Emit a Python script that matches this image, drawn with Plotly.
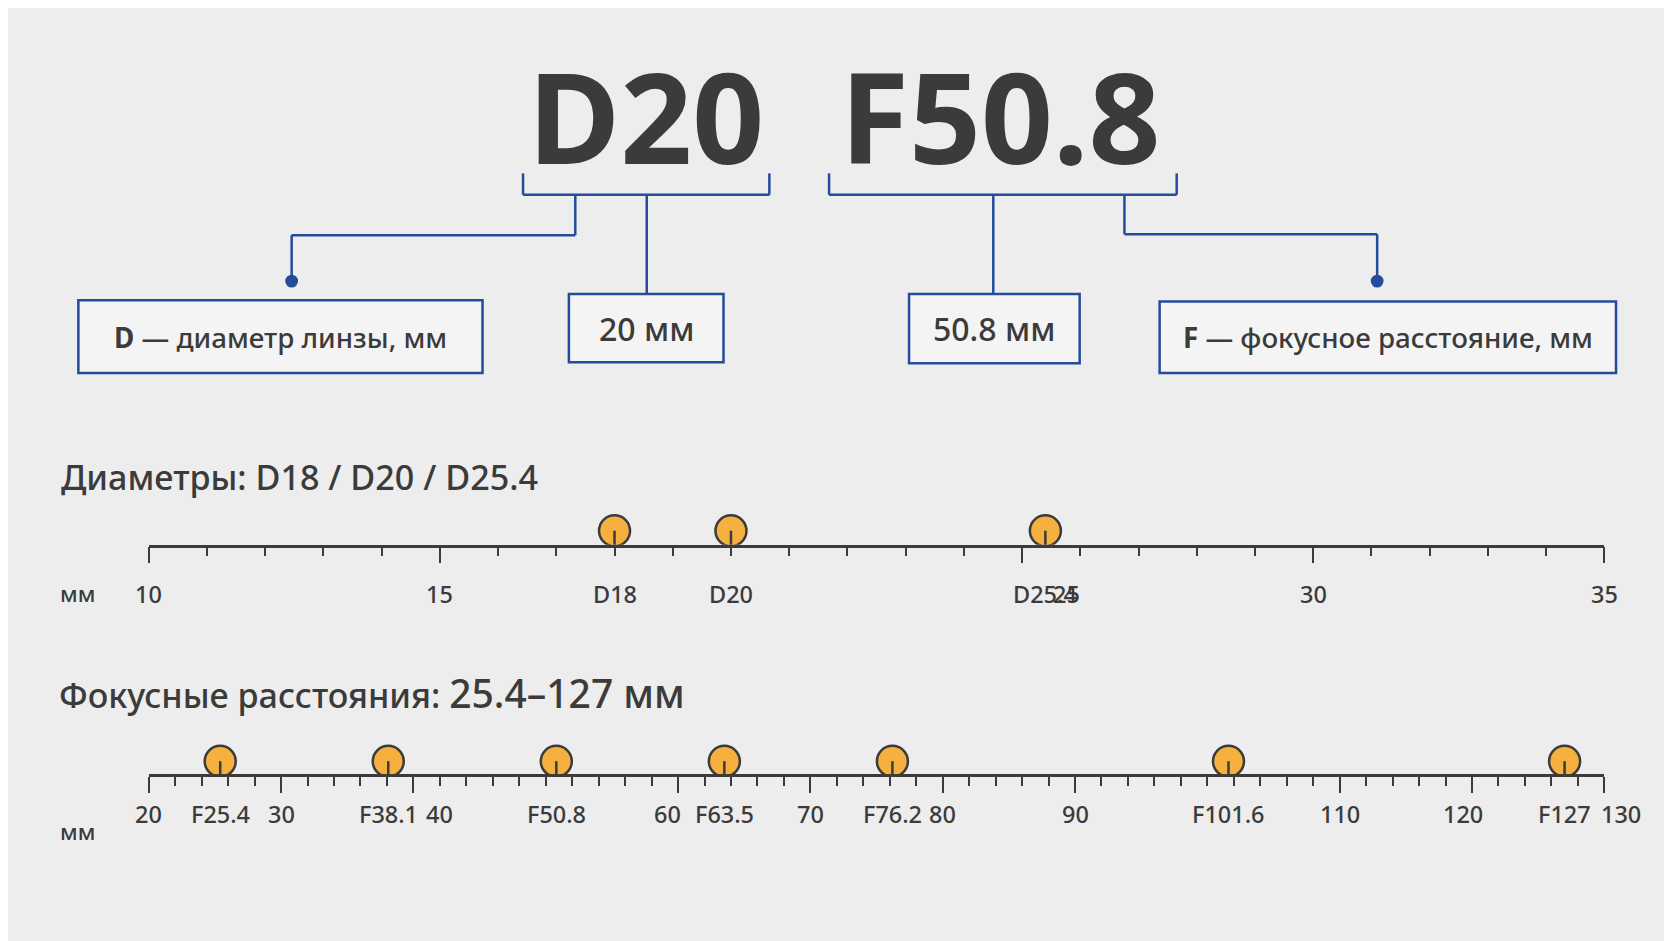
import plotly.graph_objects as go

W, H = 1568, 882  # reference design grid

diam_vals = [18, 20, 25.4]
diam_labels = ["D18", "D20", "D25.4"]
diam_ticks = [10, 15, 25, 30, 35]

focal_vals = [25.4, 38.1, 50.8, 63.5, 76.2, 101.6, 127]
focal_labels = ["F25.4", "F38.1", "F50.8", "F63.5", "F76.2", "F101.6", "F127"]
focal_ticks = [20, 30, 40, 60, 70, 80, 90, 110, 120, 130]

# label nudges (px) so numbers don't collide with marker labels
nudge = {("x", 25): 42, ("x2", 40): 24, ("x2", 60): -10, ("x2", 130): 16, ("x2", 120): -8}

BLUE = "#244c9a"
DARK = "#3b3b3b"
ORANGE = "#f5b040"
FONT = "Noto Sans"
S = 941 / 882


def px(x):
    return x / W


def py(y):
    return 1 - y / H


fig = go.Figure()
shapes, ann = [], []


def line(x0, y0, x1, y1, color=BLUE, w=2.5):
    shapes.append(dict(type="line", xref="paper", yref="paper", x0=px(x0), y0=py(y0),
                       x1=px(x1), y1=py(y1), line=dict(color=color, width=w)))


def text(x, y, t, size, color=DARK, xanchor="center", weight=None):
    ann.append(dict(x=px(x), y=py(y), xref="paper", yref="paper", text=t, showarrow=False,
                    xanchor=xanchor, yanchor="middle",
                    font=dict(family=FONT, size=size * S, color=color, weight=weight)))


def box(x0, y0, x1, y1, t, size):
    shapes.append(dict(type="rect", xref="paper", yref="paper", x0=px(x0), y0=py(y0), x1=px(x1),
                       y1=py(y1), line=dict(color=BLUE, width=2.5), fillcolor="#f4f4f4"))
    text((x0 + x1) / 2, (y0 + y1) / 2, t, size, weight=500)


def dot(x, y):
    shapes.append(dict(type="circle", xref="paper", yref="paper", x0=px(x - 6), x1=px(x + 6),
                       y0=py(y + 6), y1=py(y - 6), fillcolor=BLUE, line=dict(width=0)))


# title
text(598, 100, "D20", 118, weight="bold")
text(930, 100, "F50.8", 118, weight="bold")

# brackets
for x0, x1 in [(483, 714), (770, 1096)]:
    line(x0, 155, x0, 175); line(x0, 175, x1, 175); line(x1, 175, x1, 155)
line(532, 175, 532, 213); line(532, 213, 266, 213); line(266, 213, 266, 256); dot(266, 256)
line(599, 175, 599, 268)
line(924, 175, 924, 268)
line(1047, 175, 1047, 212); line(1047, 212, 1284, 212); line(1284, 212, 1284, 256); dot(1284, 256)

box(66, 274, 445, 342, "<b>D</b> — диаметр линзы, мм", 26)
box(526, 268, 671, 332, "20 мм", 30)
box(845, 268, 1005, 333, "50.8 мм", 30)
box(1080, 275, 1508, 342, "<b>F</b> — фокусное расстояние, мм", 26)

text(48, 440, "Диаметры: D18 / D20 / D25.4", 32, xanchor="left", weight=500)
text(46, 642, "Фокусные расстояния: <span style='font-size:39px'>25.4–127 мм</span>", 32,
     xanchor="left", weight=500)
text(65, 549, "мм", 21, weight=500)
text(65, 772, "мм", 21, weight=500)

dom = [px(132), px(1497)]
ax_common = dict(showline=True, linecolor=DARK, linewidth=2.5, ticks="outside", tickcolor=DARK,
                 tickwidth=2, showgrid=False, zeroline=False, showticklabels=False)
yax = dict(range=[0, 1], visible=False, fixedrange=True)

fig.update_layout(
    xaxis=dict(domain=dom, range=[10, 35], anchor="y", tickvals=diam_ticks, ticklen=16,
               minor=dict(dtick=1, ticklen=9, tickcolor=DARK, tickwidth=1.5), **ax_common),
    yaxis=dict(domain=[py(503), py(503) + 0.1], **yax),
    xaxis2=dict(domain=dom, range=[20, 130], anchor="y2", tickvals=focal_ticks, ticklen=16,
                minor=dict(dtick=2, ticklen=9, tickcolor=DARK, tickwidth=1.5), **ax_common),
    yaxis2=dict(domain=[py(718), py(718) + 0.1], **yax),
)

span = 0.1 * H
lab_font = dict(family=FONT, size=22 * S, color=DARK, weight=500)
for ax, ticks, ylab in [("x", diam_ticks, 549), ("x2", focal_ticks, 772)]:
    for t in ticks:
        ann.append(dict(x=t, y=py(ylab), xref=ax, yref="paper", text=str(t), showarrow=False,
                        xshift=nudge.get((ax, t), 0) * S, font=lab_font))

for ax, vals, labs, ylab, below, above in [("x", diam_vals, diam_labels, 549, 27, 13),
                                           ("x2", focal_vals, focal_labels, 772, 37, 12)]:
    yref = "y" if ax == "x" else "y2"
    for v, lab in zip(vals, labs):
        shapes.append(dict(type="line", xref=ax, yref=yref, x0=v, x1=v, y0=-below / span,
                           y1=above / span, line=dict(color=DARK, width=2.5)))
        ann.append(dict(x=v, y=py(ylab), xref=ax, yref="paper", text=lab, showarrow=False,
                        font=lab_font))
    fig.add_trace(go.Scatter(x=vals, y=[above / span] * len(vals), xaxis=ax, yaxis=yref,
                             mode="markers",
                             marker=dict(size=31, color=ORANGE, line=dict(color=DARK, width=2.5)),
                             hoverinfo="x"))

fig.update_layout(width=1672, height=941, margin=dict(l=0, r=0, t=0, b=0),
                  paper_bgcolor="#ededed", plot_bgcolor="rgba(0,0,0,0)", showlegend=False,
                  shapes=shapes, annotations=ann)
fig.write_html("out.html")
